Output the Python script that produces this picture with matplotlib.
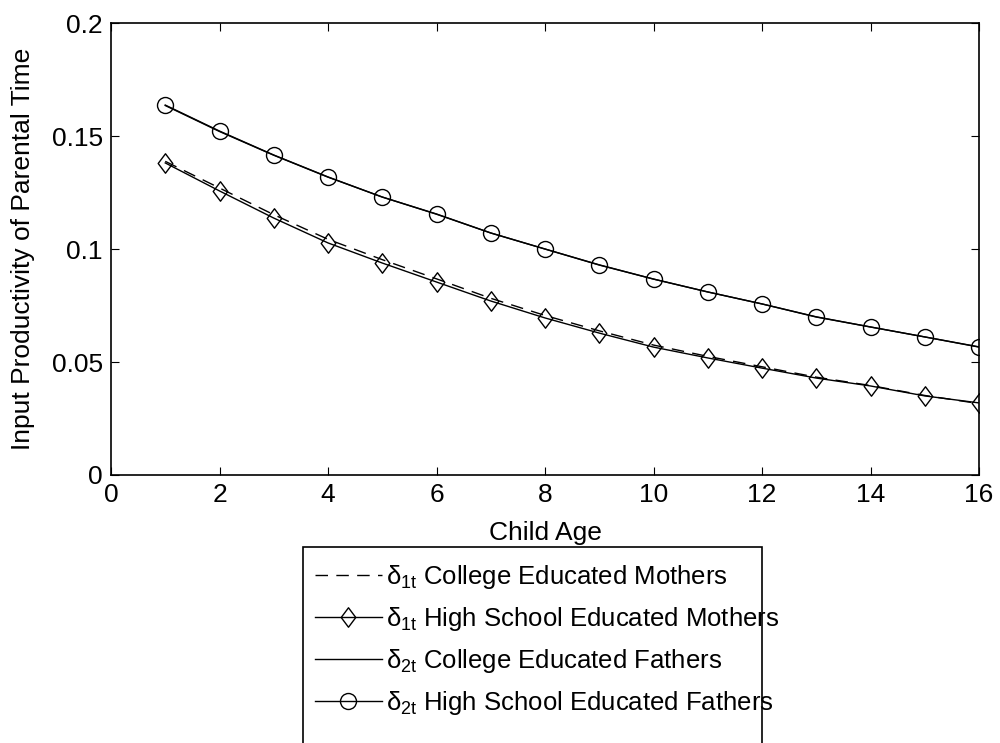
import numpy as np
import matplotlib
matplotlib.use("Agg")
import matplotlib.pyplot as plt
from matplotlib.path import Path
from matplotlib.patches import Rectangle

plt.rcParams["font.family"] = ["Liberation Sans", "DejaVu Sans"]
plt.rcParams["mathtext.fontset"] = "custom"
plt.rcParams["mathtext.rm"] = "Liberation Sans"
plt.rcParams["mathtext.it"] = "Liberation Sans"
plt.rcParams["mathtext.bf"] = "Liberation Sans:bold"

# data
edad = list(range(1, 17))
madres_college = [0.1388, 0.1270, 0.1152, 0.1043, 0.0953, 0.0868, 0.0782, 0.0706,
                  0.0638, 0.0575, 0.0525, 0.0479, 0.0433, 0.0396, 0.0352, 0.0316]
madres_hs = [0.1381, 0.1257, 0.1137, 0.1027, 0.0938, 0.0854, 0.0770, 0.0695,
             0.0628, 0.0566, 0.0518, 0.0473, 0.0429, 0.0394, 0.0350, 0.0319]
padres_college = [0.1635, 0.1520, 0.1415, 0.1318, 0.1230, 0.1154, 0.1071, 0.1000,
                  0.0930, 0.0867, 0.0810, 0.0757, 0.0700, 0.0655, 0.0611, 0.0567]
padres_hs = [0.1637, 0.1522, 0.1416, 0.1319, 0.1230, 0.1155, 0.1071, 0.1000,
             0.0929, 0.0867, 0.0810, 0.0757, 0.0699, 0.0655, 0.0611, 0.0566]

etiquetas = [
    r"$\delta_{1t}$ College Educated Mothers",
    r"$\delta_{1t}$ High School Educated Mothers",
    r"$\delta_{2t}$ College Educated Fathers",
    r"$\delta_{2t}$ High School Educated Fathers",
]

# matlab style diamond (a bit taller than wide)
diamante = Path([(0, 1), (0.75, 0), (0, -1), (-0.75, 0), (0, 1)],
                [Path.MOVETO, Path.LINETO, Path.LINETO, Path.LINETO, Path.CLOSEPOLY])

FS = 19

fig = plt.figure(figsize=(10, 7.43), dpi=100)
ax = fig.add_axes([0.111, 0.3607, 0.868, 0.6083])

lw = 1.0
ax.plot(edad, madres_college, color="black", lw=lw, linestyle=(0, (9, 6)), label=etiquetas[0])
ax.plot(edad, madres_hs, color="black", lw=lw, marker=diamante, markersize=14,
        markerfacecolor="none", markeredgewidth=1.0, label=etiquetas[1])
ax.plot(edad, padres_college, color="black", lw=lw, label=etiquetas[2])
ax.plot(edad, padres_hs, color="black", lw=lw, marker="o", markersize=11.5,
        markerfacecolor="none", markeredgewidth=1.0, label=etiquetas[3])

ax.set_xlim(0, 16)
ax.set_ylim(0, 0.2)
ax.set_xticks(range(0, 17, 2))
ax.set_yticks([0, 0.05, 0.1, 0.15, 0.2])
ax.set_yticklabels(["0", "0.05", "0.1", "0.15", "0.2"])
ax.tick_params(direction="in", length=6, width=0.8, top=True, right=True,
               labelsize=FS, pad=6)
for s in ax.spines.values():
    s.set_linewidth(1.2)
ax.set_xlabel("Child Age", fontsize=FS, labelpad=10)
ax.set_ylabel("Input Productivity of Parental Time", fontsize=FS, labelpad=12)

leg = ax.legend(loc="upper left", bbox_to_anchor=(0.315, 0.2422),
                bbox_transform=fig.transFigure, frameon=False, fontsize=18.5,
                handlelength=2.6, handletextpad=0.15, labelspacing=0.55,
                borderpad=0.0, borderaxespad=0.0)

# legend frame, narrower than the text like the matlab export (clipped at bottom)
fig.patches.append(Rectangle((0.303, -0.05), 0.459, 0.3138,
                             transform=fig.transFigure, fill=False,
                             edgecolor="black", lw=1.2))

fig.savefig("out.png", dpi=100)
